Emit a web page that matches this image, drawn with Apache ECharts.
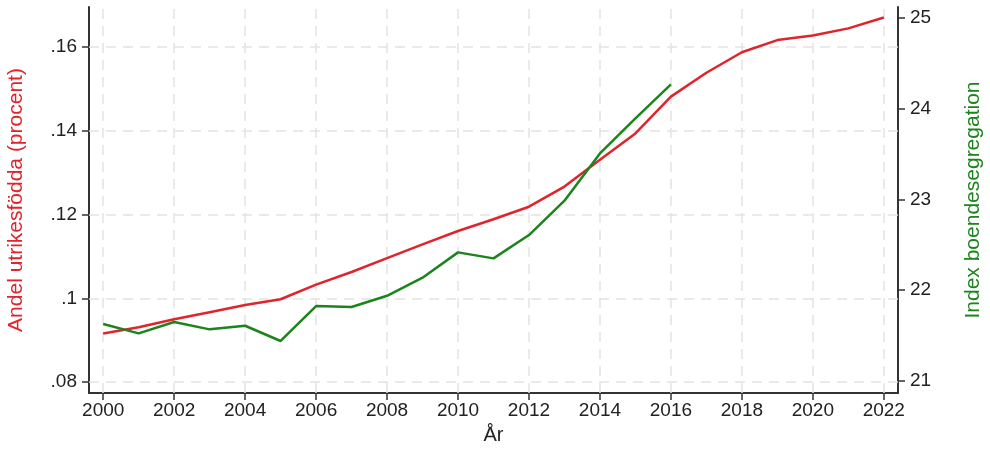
<!DOCTYPE html>
<html>
<head>
<meta charset="utf-8">
<script src="https://cdn.jsdelivr.net/npm/echarts@6/dist/echarts.min.js"></script>
<style>
  html, body { margin: 0; padding: 0; background: #fff; }
  #chart { width: 990px; height: 449px; }
</style>
</head>
<body>
<div id="chart"></div>
<script>
// år
const years = [2000, 2001, 2002, 2003, 2004, 2005, 2006, 2007, 2008, 2009, 2010,
  2011, 2012, 2013, 2014, 2015, 2016, 2017, 2018, 2019, 2020, 2021, 2022]
// andel utrikesfödda (vänster axel)
const andelUtrikes = [0.0916, 0.0931, 0.0950, 0.0967, 0.0984, 0.0998, 0.1033, 0.1063,
  0.1096, 0.1129, 0.1161, 0.1189, 0.1219, 0.1267, 0.1331, 0.1394, 0.1482, 0.1539,
  0.1588, 0.1617, 0.1628, 0.1645, 0.1671]
// index boendesegregation (höger axel), 2000-2016
const segregation = [21.628, 21.525, 21.650, 21.569, 21.609, 21.441, 21.826, 21.815,
  21.939, 22.138, 22.417, 22.351, 22.608, 22.986, 23.507, 23.893, 24.268]
const xTicks = [2000, 2002, 2004, 2006, 2008, 2010, 2012, 2014, 2016, 2018, 2020, 2022]
const leftTicks = [0.08, 0.10, 0.12, 0.14, 0.16]
const rightTicks = [21, 22, 23, 24, 25]

const red = '#e0242b'
const green = '#1c841c'
const textColor = '#222'
const axisColor = '#333'
const gridColor = '#e4e4e4'
const fontFamily = '"Liberation Sans", Arial, sans-serif'

// rutnät: streckade linjer vid jämna år och vid vänsteraxelns ticks
const gridLines = xTicks.map(v => ({ xAxis: v }))
  .concat(leftTicks.map(v => ({ yAxis: v })))

const chart = echarts.init(document.getElementById('chart'))
chart.setOption({
  backgroundColor: '#fff',
  animation: false,
  grid: { left: 89, right: 92, top: 7, bottom: 56, containLabel: false, outerBoundsMode: 'none' },
  xAxis: {
    type: 'value',
    min: 1999.6,
    max: 2022.4,
    name: 'År',
    nameLocation: 'middle',
    nameGap: 32,
    nameTextStyle: { color: textColor, fontSize: 20, fontFamily: fontFamily, verticalAlign: 'top' },
    axisLine: { show: true, lineStyle: { color: axisColor, width: 2 } },
    axisTick: { show: true, customValues: xTicks, length: 7, lineStyle: { color: axisColor, width: 1.5 } },
    axisLabel: {
      customValues: xTicks,
      color: textColor,
      fontSize: 19,
      fontFamily: fontFamily,
      margin: 8,
      formatter: v => String(Math.round(v))
    },
    splitLine: { show: false }
  },
  yAxis: [
    {
      type: 'value',
      position: 'left',
      min: 0.0774,
      max: 0.1696,
      name: 'Andel utrikesfödda (procent)',
      nameLocation: 'middle',
      nameRotate: 90,
      nameGap: 62,
      nameTextStyle: { color: red, fontSize: 21, fontFamily: fontFamily },
      axisLine: { show: true, lineStyle: { color: axisColor, width: 2 } },
      axisTick: { show: true, customValues: leftTicks, length: 7, lineStyle: { color: axisColor, width: 1.5 } },
      axisLabel: {
        customValues: leftTicks,
        color: textColor,
        fontSize: 19,
        fontFamily: fontFamily,
        margin: 12,
        formatter: v => String(+v.toFixed(2)).replace(/^0/, '')
      },
      splitLine: { show: false }
    },
    {
      type: 'value',
      position: 'right',
      min: 20.868,
      max: 25.12,
      name: 'Index boendesegregation',
      nameLocation: 'middle',
      nameRotate: 90,
      nameGap: 65,
      nameTextStyle: { color: green, fontSize: 21, fontFamily: fontFamily },
      axisLine: { show: true, lineStyle: { color: axisColor, width: 2 } },
      axisTick: { show: true, customValues: rightTicks, length: 7, lineStyle: { color: axisColor, width: 1.5 } },
      axisLabel: { customValues: rightTicks, color: textColor, fontSize: 19, fontFamily: fontFamily, margin: 12 },
      splitLine: { show: false }
    }
  ],
  series: [
    {
      // bara rutnätet
      type: 'line',
      yAxisIndex: 0,
      data: [],
      z: 1,
      silent: true,
      markLine: {
        z: 1,
        silent: true,
        symbol: 'none',
        label: { show: false },
        lineStyle: { color: gridColor, type: [10, 7], width: 1.5 },
        data: gridLines
      }
    },
    {
      type: 'line',
      yAxisIndex: 0,
      z: 3,
      data: years.map((y, i) => [y, andelUtrikes[i]]),
      symbol: 'none',
      lineStyle: { color: red, width: 2.5 }
    },
    {
      type: 'line',
      yAxisIndex: 1,
      z: 4,
      data: segregation.map((v, i) => [years[i], v]),
      symbol: 'none',
      lineStyle: { color: green, width: 2.5 }
    }
  ]
})
</script>
</body>
</html>
